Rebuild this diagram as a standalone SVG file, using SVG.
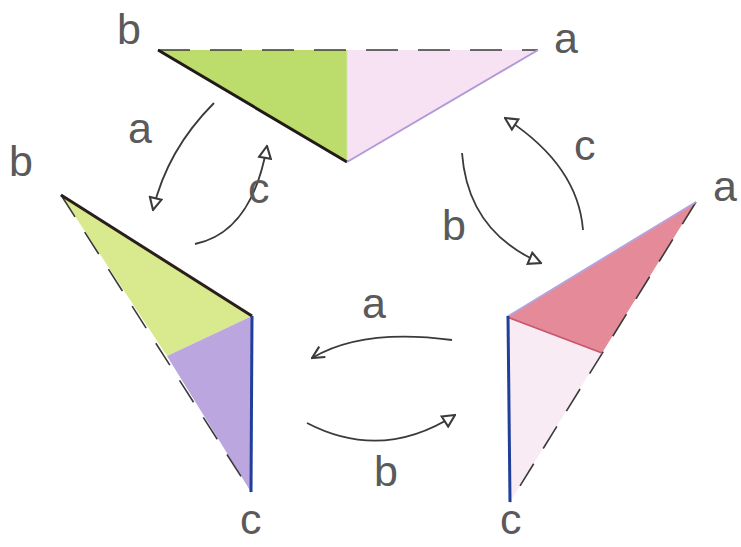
<svg xmlns="http://www.w3.org/2000/svg" width="741" height="547" viewBox="0 0 741 547">
<style>
.lbl{font-family:"Liberation Sans",Arial,sans-serif;font-size:43px;fill:#5a5a5a;}
.dash{stroke:#3a3a3a;stroke-width:1.6;stroke-dasharray:32 20;fill:none;}
.arr{fill:none;stroke:#3a3a3a;stroke-width:1.8;}
</style>
<defs>
<marker id="tri" viewBox="0 0 10 10" refX="9" refY="5" markerWidth="15" markerHeight="15" markerUnits="userSpaceOnUse" orient="auto">
<path d="M1,1 L9,5 L1,9 z" fill="#fff" stroke="#3a3a3a" stroke-width="1.4"/>
</marker>
<marker id="vee" viewBox="0 0 10 10" refX="9" refY="5" markerWidth="15" markerHeight="15" markerUnits="userSpaceOnUse" orient="auto">
<path d="M1,1 L9,5 L1,9" fill="none" stroke="#3a3a3a" stroke-width="1.4"/>
</marker>
</defs>
<rect width="741" height="547" fill="#fff"/>

<g id="top">
<polygon points="158,50 347,50 347,162" fill="#bcdc6c"/>
<polygon points="347,50 538,50 347,162" fill="#f6e2f2"/>
<line x1="347" y1="50" x2="347" y2="162" stroke="#d6e6b0" stroke-width="1"/>
<line x1="158" y1="50" x2="538" y2="50" class="dash"/>
<line x1="158" y1="50" x2="347" y2="162" stroke="#221a18" stroke-width="3"/>
<line x1="347" y1="162" x2="538" y2="50" stroke="#b09ad8" stroke-width="2"/>
<text class="lbl" x="117" y="44">b</text>
<text class="lbl" x="554" y="53">a</text>
</g>

<g id="left">
<polygon points="61,195 252,316 167,356" fill="#d9ea8e"/>
<polygon points="167,356 252,316 251,492" fill="#bba6e0"/>
<line x1="61" y1="195" x2="251" y2="492" class="dash" style="stroke-dasharray:26 18"/>
<line x1="61" y1="195" x2="252" y2="316" stroke="#2a1e1a" stroke-width="3"/>
<line x1="252" y1="316" x2="251" y2="492" stroke="#1f3f9a" stroke-width="3"/>
<text class="lbl" x="9" y="176">b</text>
<text class="lbl" x="240" y="534">c</text>
</g>

<g id="right">
<polygon points="696,202 507,317 602,353" fill="#e58a98"/>
<polygon points="507,317 602,353 510,502" fill="#f8ebf4"/>
<line x1="696" y1="202" x2="510" y2="502" class="dash" style="stroke-dasharray:26 18"/>
<line x1="507" y1="317" x2="696" y2="202" stroke="#b8a2dc" stroke-width="2"/>
<line x1="507" y1="317" x2="602" y2="353" stroke="#c8566a" stroke-width="1.5"/>
<line x1="508" y1="316" x2="510" y2="502" stroke="#1f3f9a" stroke-width="3"/>
<text class="lbl" x="713" y="201">a</text>
<text class="lbl" x="500" y="534">c</text>
</g>

<g id="connectors">
<path class="arr" d="M214,103 Q167,150 153,210" marker-end="url(#tri)"/>
<path class="arr" d="M195,244 Q252,232 267,146" marker-end="url(#tri)"/>
<path class="arr" d="M462,153 Q468,232 541,263" marker-end="url(#tri)"/>
<path class="arr" d="M583,230 Q578,165 505,118" marker-end="url(#tri)"/>
<path class="arr" d="M452,340 Q362,328 312,358" marker-end="url(#vee)"/>
<path class="arr" d="M307,423 Q382,462 455,415" marker-end="url(#tri)"/>
<text class="lbl" x="128" y="143">a</text>
<text class="lbl" x="248" y="203">c</text>
<text class="lbl" x="442" y="240">b</text>
<text class="lbl" x="574" y="160">c</text>
<text class="lbl" x="362" y="318">a</text>
<text class="lbl" x="374" y="486">b</text>
</g>
</svg>
